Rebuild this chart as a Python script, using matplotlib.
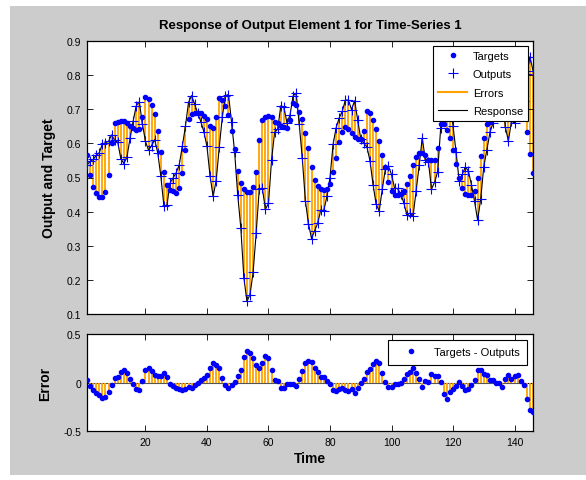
import numpy as np
import matplotlib
matplotlib.use('Agg')
import matplotlib.pyplot as plt
from matplotlib.patches import Rectangle

plt.rcParams['font.family'] = ['Liberation Sans', 'DejaVu Sans']

# target values
targets = [
    0.567, 0.507, 0.473, 0.455, 0.443, 0.443, 0.457, 0.506, 0.600, 0.659,
    0.663, 0.665, 0.666, 0.661, 0.650, 0.645, 0.640, 0.642, 0.678, 0.736,
    0.730, 0.713, 0.686, 0.637, 0.574, 0.517, 0.479, 0.464, 0.459, 0.454,
    0.468, 0.512, 0.580, 0.670, 0.685, 0.690, 0.688, 0.689, 0.679, 0.671,
    0.650, 0.645, 0.676, 0.734, 0.728, 0.710, 0.683, 0.637, 0.584, 0.519,
    0.483, 0.466, 0.457, 0.457, 0.472, 0.517, 0.611, 0.669, 0.677, 0.679,
    0.676, 0.663, 0.661, 0.650, 0.647, 0.645, 0.668, 0.719, 0.712, 0.691,
    0.671, 0.631, 0.585, 0.531, 0.494, 0.476, 0.465, 0.463, 0.465, 0.480,
    0.517, 0.556, 0.605, 0.634, 0.647, 0.642, 0.629, 0.620, 0.613, 0.613,
    0.635, 0.695, 0.689, 0.669, 0.642, 0.607, 0.566, 0.530, 0.488, 0.459,
    0.448, 0.448, 0.451, 0.461, 0.480, 0.505, 0.538, 0.560, 0.571, 0.571,
    0.566, 0.551, 0.551, 0.551, 0.587, 0.656, 0.657, 0.640, 0.615, 0.581,
    0.539, 0.500, 0.469, 0.451, 0.449, 0.448, 0.460, 0.500, 0.562, 0.617,
    0.656, 0.662, 0.690, 0.710, 0.720, 0.700, 0.688, 0.682, 0.700, 0.730,
    0.760, 0.750, 0.700, 0.632, 0.569, 0.513,
]

# errors (targets - outputs)
errors = [
    0.030, -0.040, -0.080, -0.110, -0.130, -0.155, -0.145, -0.100, -0.025, 0.050,
    0.060, 0.110, 0.125, 0.100, 0.035, -0.020, -0.070, -0.080, 0.020, 0.130,
    0.150, 0.120, 0.075, 0.065, 0.070, 0.100, 0.060, -0.020, -0.040, -0.060,
    -0.070, -0.080, -0.070, -0.050, -0.055, -0.025, 0.000, 0.025, 0.045, 0.080,
    0.145, 0.200, 0.185, 0.145, 0.050, -0.030, -0.060, -0.025, 0.010, 0.070,
    0.130, 0.260, 0.320, 0.300, 0.250, 0.180, 0.145, 0.200, 0.270, 0.255,
    0.125, 0.030, 0.020, -0.060, -0.060, -0.015, -0.015, -0.020, -0.035, 0.035,
    0.115, 0.200, 0.220, 0.210, 0.150, 0.110, 0.060, 0.060, 0.020, -0.020,
    -0.080, -0.090, -0.070, -0.060, -0.080, -0.085, -0.070, -0.105, -0.055, 0.000,
    0.035, 0.105, 0.140, 0.190, 0.220, 0.205, 0.100, 0.005, -0.045, -0.050,
    -0.020, -0.020, 0.000, 0.035, 0.090, 0.110, 0.150, 0.100, 0.035, -0.045,
    0.015, 0.005, 0.085, 0.065, 0.070, 0.010, -0.120, -0.165, -0.100, -0.070,
    -0.035, 0.010, -0.040, -0.080, -0.070, -0.030, 0.030, 0.125, 0.125, 0.085,
    0.075, 0.030, 0.030, 0.000, -0.010, -0.050, 0.040, 0.075, 0.035, 0.070,
    0.080, 0.015, -0.025, -0.170, -0.285, -0.300,
]

t = np.arange(1, len(targets) + 1)
targets = np.array(targets)
errors = np.array(errors)
outputs = targets - errors

ORANGE = '#FFA200'
BLUE = '#0000FF'

fig = plt.figure(figsize=(5.86, 4.81), dpi=100, facecolor='white')
fig.patches.append(Rectangle((10 / 586, 0.01), 576 / 586, 1 - 7 / 481 - 0.01,
                             transform=fig.transFigure, facecolor='#CCCCCC',
                             edgecolor='none', zorder=-10))

ax1 = fig.add_axes([87 / 586, 1 - 315 / 481, 446 / 586, 273 / 481])
ax2 = fig.add_axes([87 / 586, 1 - 432 / 481, 446 / 586, 97 / 481])

# top: response
ax1.vlines(t, outputs, targets, color=ORANGE, lw=1.3, zorder=1)
ax1.plot(t, outputs, color='black', lw=0.8, zorder=2)
ax1.plot(t, targets, '.', color=BLUE, ms=6, zorder=3)
ax1.plot(t, outputs, '+', color=BLUE, ms=7.5, mew=0.8, zorder=4)

# legend proxies
h1, = ax1.plot([], [], '.', color=BLUE, ms=6, label='Targets')
h2, = ax1.plot([], [], '+', color=BLUE, ms=7.5, mew=0.8, label='Outputs')
h3, = ax1.plot([], [], color=ORANGE, lw=1.5, label='Errors')
h4, = ax1.plot([], [], color='black', lw=0.8, label='Response')
leg = ax1.legend(handles=[h1, h2, h3, h4], loc='upper right', fontsize=8,
                 fancybox=False, edgecolor='black', framealpha=1,
                 borderaxespad=0.45, handlelength=2.6, handletextpad=0.5,
                 labelspacing=0.75, borderpad=0.45)
leg.get_frame().set_linewidth(0.8)
leg.set_zorder(10)

ax1.set_xlim(1, len(t))
ax1.set_ylim(0.1, 0.9)
ax1.set_yticks(np.arange(0.1, 0.91, 0.1))
ax1.set_yticklabels(['0.1', '0.2', '0.3', '0.4', '0.5', '0.6', '0.7', '0.8', '0.9'])
ax1.set_xticks([20, 40, 60, 80, 100, 120, 140])
ax1.set_xticklabels([])
ax1.set_ylabel('Output and Target', fontsize=10, fontweight='bold', labelpad=8)
ax1.set_title('Response of Output Element 1 for Time-Series 1', fontsize=9.5,
              fontweight='bold', pad=9)

# bottom: errors
ax2.axhline(0, color='#555555', lw=0.8, zorder=1)
ax2.vlines(t, 0, errors, color=ORANGE, lw=1.3, zorder=2)
e, = ax2.plot(t, errors, '.', color=BLUE, ms=6, zorder=3, label='Targets - Outputs')
leg2 = ax2.legend(handles=[e], loc='upper right', fontsize=8, fancybox=False,
                  edgecolor='black', framealpha=1, borderaxespad=0.5,
                  handlelength=2.6, borderpad=0.7)
leg2.get_frame().set_linewidth(0.8)

ax2.set_xlim(1, len(t))
ax2.set_ylim(-0.5, 0.5)
ax2.set_yticks([-0.5, 0, 0.5])
ax2.set_yticklabels(['-0.5', '0', '0.5'])
ax2.set_xticks([20, 40, 60, 80, 100, 120, 140])
ax2.set_xlabel('Time', fontsize=10, fontweight='bold', labelpad=3)
ax2.set_ylabel('Error', fontsize=10, fontweight='bold', labelpad=8)

for ax in (ax1, ax2):
    ax.set_facecolor('white')
    ax.tick_params(direction='in', top=True, right=True, labelsize=7.5,
                   length=4, width=0.6, pad=4)
    for s in ax.spines.values():
        s.set_linewidth(0.9)

fig.savefig('out.png', dpi=100)
